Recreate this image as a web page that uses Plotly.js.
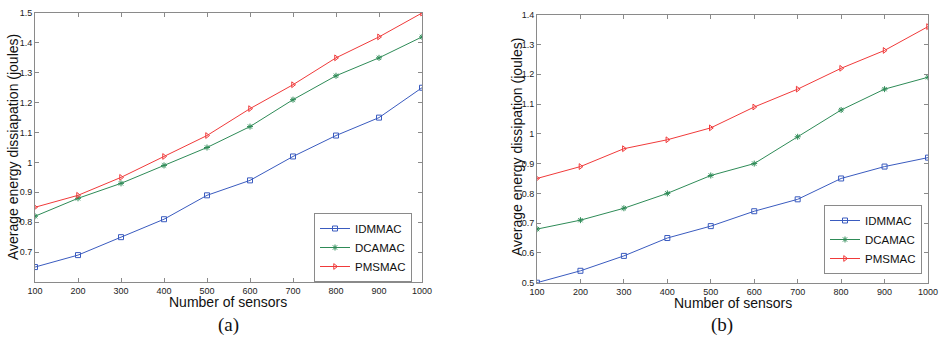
<!DOCTYPE html>
<html>
<head>
<meta charset="utf-8">
<script src="https://cdn.plot.ly/plotly-3.0.1.min.js"></script>
<style>html,body{margin:0;padding:0;background:#fff;}#chart{width:940px;height:339px;}</style>
</head>
<body>
<div id="chart"></div>
<script>
const sensors = [100, 200, 300, 400, 500, 600, 700, 800, 900, 1000];

// Panel (a)
const idmmacA = [0.65, 0.69, 0.75, 0.81, 0.89, 0.94, 1.02, 1.09, 1.15, 1.25];
const dcamacA = [0.82, 0.88, 0.93, 0.99, 1.05, 1.12, 1.21, 1.29, 1.35, 1.42];
const pmsmacA = [0.85, 0.89, 0.95, 1.02, 1.09, 1.18, 1.26, 1.35, 1.42, 1.50];

// Panel (b)
const idmmacB = [0.50, 0.54, 0.59, 0.65, 0.69, 0.74, 0.78, 0.85, 0.89, 0.92];
const dcamacB = [0.68, 0.71, 0.75, 0.80, 0.86, 0.90, 0.99, 1.08, 1.15, 1.19];
const pmsmacB = [0.85, 0.89, 0.95, 0.98, 1.02, 1.09, 1.15, 1.22, 1.28, 1.36];

const xTickText = ["100","200","300","400","500","600","700","800","900","1000"];
const yTickValsA = [0.7, 0.8, 0.9, 1.0, 1.1, 1.2, 1.3, 1.4, 1.5];
const yTickTextA = ["0.7","0.8","0.9","1","1.1","1.2","1.3","1.4","1.5"];
const yTickValsB = [0.5, 0.6, 0.7, 0.8, 0.9, 1.0, 1.1, 1.2, 1.3, 1.4];
const yTickTextB = ["0.5","0.6","0.7","0.8","0.9","1","1.1","1.2","1.3","1.4"];

const names = ["IDMMAC", "DCAMAC", "PMSMAC"];
const colors = ["#3a5bbf", "#2e8b57", "#f03a3a"];
const symbols = ["square-open", "asterisk-open", "triangle-right-open"];

const SANS = "'Liberation Sans', Arial, sans-serif";
const SERIF = "'Liberation Serif', 'Times New Roman', serif";

function mk(y, i, xa, ya, lg) {
  return {
    x: sensors, y: y, name: names[i], type: "scatter", mode: "lines+markers",
    xaxis: xa, yaxis: ya, legend: lg,
    line: {color: colors[i], width: 1},
    marker: {symbol: symbols[i], size: 5, color: colors[i], line: {color: colors[i], width: 1}}
  };
}

const data = [
  mk(idmmacA, 0, "x", "y", "legend"), mk(dcamacA, 1, "x", "y", "legend"), mk(pmsmacA, 2, "x", "y", "legend"),
  mk(idmmacB, 0, "x2", "y2", "legend2"), mk(dcamacB, 1, "x2", "y2", "legend2"), mk(pmsmacB, 2, "x2", "y2", "legend2")
];

const axBase = {
  showline: true, linecolor: "#8a8a8a", linewidth: 1, mirror: "ticks",
  ticks: "inside", ticklen: 4, tickcolor: "#8a8a8a", showgrid: false, zeroline: false,
  tickfont: {family: SANS, size: 9, color: "#222"},
  ticklabeloverflow: "allow",
  fixedrange: true
};

const legBase = {
  xanchor: "right", yanchor: "top",
  bgcolor: "#fff", bordercolor: "#8a8a8a", borderwidth: 1,
  font: {family: SANS, size: 11.5, color: "#111"},
  tracegroupgap: 0, itemwidth: 30
};

const layout = {
  width: 940, height: 339,
  margin: {l: 0, r: 0, t: 0, b: 0},
  paper_bgcolor: "#fff", plot_bgcolor: "#fff",
  font: {family: SANS, color: "#111"},
  xaxis: Object.assign({}, axBase, {domain: [35/940, 422/940], anchor: "y", range: [100, 1000],
    tickmode: "array", tickvals: sensors, ticktext: xTickText}),
  yaxis: Object.assign({}, axBase, {domain: [1 - 282/339, 1 - 13/339], anchor: "x", range: [0.6, 1.5],
    tickmode: "array", tickvals: yTickValsA, ticktext: yTickTextA}),
  xaxis2: Object.assign({}, axBase, {domain: [537/940, 928/940], anchor: "y2", range: [100, 1000],
    tickmode: "array", tickvals: sensors, ticktext: xTickText}),
  yaxis2: Object.assign({}, axBase, {domain: [1 - 282.7/339, 1 - 14.7/339], anchor: "x2", range: [0.5, 1.4],
    tickmode: "array", tickvals: yTickValsB, ticktext: yTickTextB}),
  legend: Object.assign({}, legBase, {x: 412/940, y: 1 - 213/339}),
  legend2: Object.assign({}, legBase, {x: 922/940, y: 1 - 205/339}),
  annotations: [
    {text: "Average energy dissiapation (joules)", x: 13/940, y: 1 - 147/339, xref: "paper", yref: "paper",
      textangle: -90, showarrow: false, font: {family: SANS, size: 14, color: "#111"}, xanchor: "center", yanchor: "middle"},
    {text: "Average energy dissipation (joules)", x: 517/940, y: 1 - 147/339, xref: "paper", yref: "paper",
      textangle: -90, showarrow: false, font: {family: SANS, size: 14, color: "#111"}, xanchor: "center", yanchor: "middle"},
    {text: "Number of sensors", x: 228/940, y: 1 - 301.5/339, xref: "paper", yref: "paper",
      showarrow: false, font: {family: SANS, size: 14, color: "#111"}, xanchor: "center", yanchor: "middle"},
    {text: "Number of sensors", x: 733/940, y: 1 - 303/339, xref: "paper", yref: "paper",
      showarrow: false, font: {family: SANS, size: 14, color: "#111"}, xanchor: "center", yanchor: "middle"},
    {text: "(a)", x: 228/940, y: 1 - 325/339, xref: "paper", yref: "paper",
      showarrow: false, font: {family: SERIF, size: 19, color: "#111"}, xanchor: "center", yanchor: "middle"},
    {text: "(b)", x: 722/940, y: 1 - 325/339, xref: "paper", yref: "paper",
      showarrow: false, font: {family: SERIF, size: 19, color: "#111"}, xanchor: "center", yanchor: "middle"}
  ]
};

Plotly.newPlot("chart", data, layout, {displayModeBar: false, staticPlot: true});
</script>
</body>
</html>
